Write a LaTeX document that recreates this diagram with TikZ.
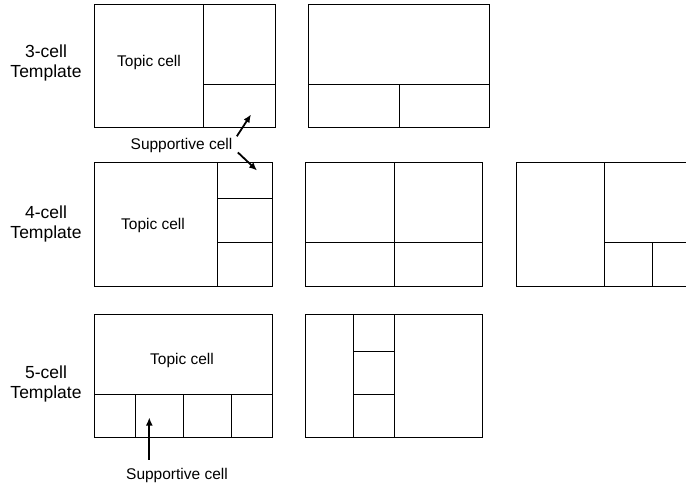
\documentclass[tikz,border=0pt]{standalone}
\usepackage{fontspec}
\setmainfont{Liberation Sans}
\usetikzlibrary{arrows.meta,calc}
\begin{document}
\begin{tikzpicture}[x=1pt,y=-1pt,
  frame/.style={draw=black,line width=1pt,inner sep=0pt,outer sep=0pt},
  div/.style={draw=black,line width=1pt},
  lab/.style={font=\fontsize{17.5}{20}\selectfont,align=center,inner sep=0pt},
  txt/.style={font=\fontsize{15.5}{18}\selectfont,inner sep=0pt},
  arr/.style={draw=black,line width=1.8pt,-{Latex[length=8pt,width=7pt]}}]
\useasboundingbox (0,0) rectangle (686,492);
\clip (0,0) rectangle (686,492);

% row labels
\node[lab] (lab3) at (46,63) {3-cell\\Template};
\node[lab] (lab4) at (46,224) {4-cell\\Template};
\node[lab] (lab5) at (46,384) {5-cell\\Template};

% 3-cell templates
\node[frame,minimum width=181pt,minimum height=123pt] (A) at (184.5,66.5) {};
\draw[div] (203,5) -- (203,128);
\draw[div] (203,85) -- (275,85);
\node[frame,minimum width=181pt,minimum height=123pt] (B) at (398.5,66.5) {};
\draw[div] (308,85) -- (489,85);
\draw[div] (399,85) -- (399,128);

% 4-cell templates
\node[frame,minimum width=178pt,minimum height=123pt] (C) at (183,224.5) {};
\draw[div] (217,163) -- (217,286);
\draw[div] (217,199) -- (272,199);
\draw[div] (217,242) -- (272,242);
\node[frame,minimum width=177pt,minimum height=123pt] (D) at (393.5,224.5) {};
\draw[div] (394,163) -- (394,286);
\draw[div] (305,242) -- (482,242);
\node[frame,minimum width=177pt,minimum height=123pt] (E) at (604.5,224.5) {};
\draw[div] (604,163) -- (604,286);
\draw[div] (604,242) -- (693,242);
\draw[div] (652,242) -- (652,286);

% 5-cell templates
\node[frame,minimum width=178pt,minimum height=123pt] (F) at (183,375.5) {};
\draw[div] (94,394) -- (272,394);
\draw[div] (135,394) -- (135,437);
\draw[div] (183,394) -- (183,437);
\draw[div] (231,394) -- (231,437);
\node[frame,minimum width=177pt,minimum height=123pt] (G) at (393.5,375.5) {};
\draw[div] (353,314) -- (353,437);
\draw[div] (394,314) -- (394,437);
\draw[div] (353,351) -- (394,351);
\draw[div] (353,394) -- (394,394);

% cell texts
\node[txt] (topA) at (149,62) {Topic cell};
\node[txt] (topC) at (153,225) {Topic cell};
\node[txt] (topF) at (182,360) {Topic cell};
\node[txt] (sup1) at (181.5,145) {Supportive cell};
\node[txt] (sup2) at (177,475.5) {Supportive cell};

% arrow targets
\coordinate (t1) at (251,114.5);
\coordinate (t2) at (257,170.5);
\coordinate (t3) at (149.3,417.5);

\draw[arr] ($(sup1.north east)+(4.3,-1.3)$) -- (t1);
\draw[arr] ($(sup1.south east)+(5.3,0)$) -- (t2);
\draw[arr] ($(sup2.north -| t3)+(0,-8.5)$) -- (t3);
\end{tikzpicture}
\end{document}
